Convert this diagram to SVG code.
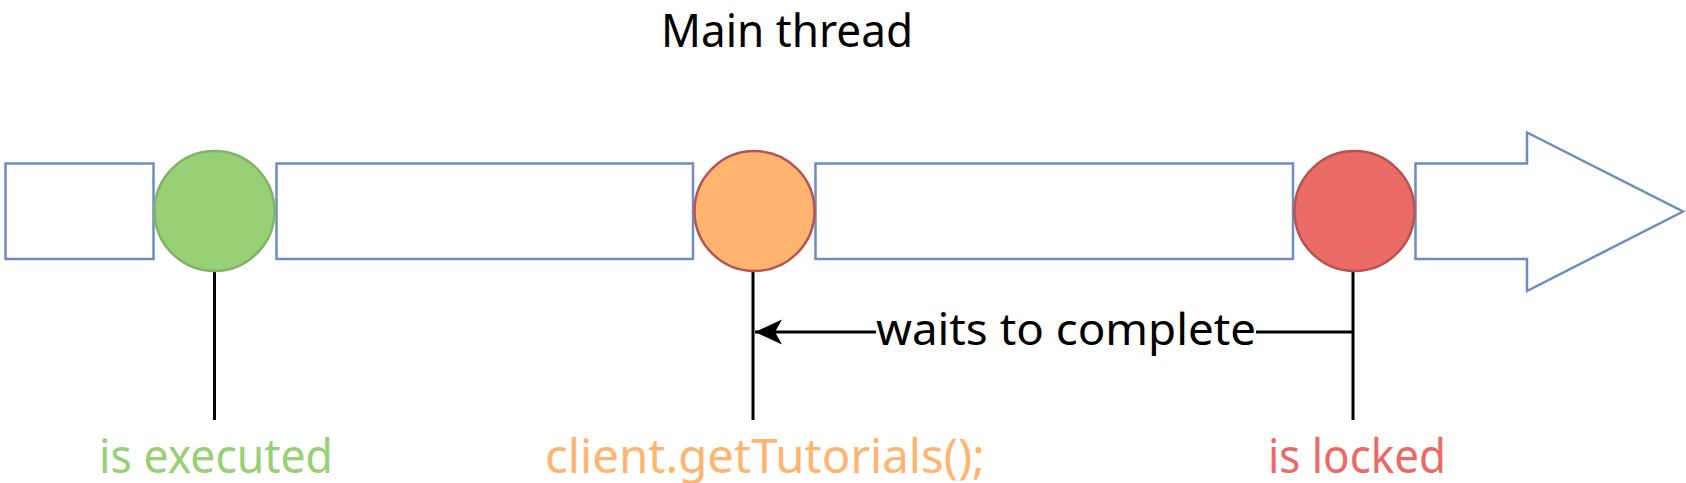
<svg xmlns="http://www.w3.org/2000/svg" width="1686" height="483" viewBox="0 0 1686 483">
<style>
.blk{fill:#fff;stroke:#6C8EBF;stroke-width:2.5}
.ln{stroke:#000;stroke-width:3;fill:none}
.t{font-family:"Noto Sans","DejaVu Sans",sans-serif}
</style>
<defs>
<marker id="ah" markerUnits="userSpaceOnUse" markerWidth="30" markerHeight="30" viewBox="0 0 30 30" refX="29" refY="15" orient="auto">
<path d="M29,15 L2,2.5 L9,15 L2,27.5 Z" fill="#000"/>
</marker>
</defs>
<rect width="1686" height="483" fill="#fff"/>
<g id="title"><text class="t" x="661" y="47" font-size="46" textLength="252" lengthAdjust="spacingAndGlyphs" fill="#000">Main thread</text></g>
<g id="block1"><rect class="blk" x="5.5" y="163.5" width="148" height="95.5"/></g>
<g id="block2"><rect class="blk" x="276.5" y="163.5" width="416.5" height="95.5"/></g>
<g id="block3"><rect class="blk" x="815.5" y="163.5" width="477.5" height="95.5"/></g>
<g id="arrow"><path class="blk" d="M1415.5,163.5 H1527 V132.5 L1683,211.5 L1527,291 V259 H1415.5 Z"/></g>
<g id="connectors">
<line class="ln" x1="214.5" y1="271" x2="214.5" y2="420"/>
<line class="ln" x1="753" y1="271" x2="753" y2="420"/>
<line class="ln" x1="1353" y1="271" x2="1353" y2="420"/>
<line class="ln" x1="1353" y1="332" x2="755" y2="332" marker-end="url(#ah)"/>
<rect x="876" y="305" width="380" height="50" fill="#fff"/>
<text class="t" x="876" y="345" font-size="44" textLength="380" lengthAdjust="spacingAndGlyphs" fill="#000">waits to complete</text>
</g>
<g id="node-executed">
<circle cx="214.5" cy="211" r="60" fill="#97D077" stroke="#82B366" stroke-width="2.5"/>
<text class="t" x="99" y="473" font-size="48" textLength="234" lengthAdjust="spacingAndGlyphs" fill="#97D077">is executed</text>
</g>
<g id="node-call">
<circle cx="754.5" cy="211" r="60" fill="#FFB570" stroke="#B85450" stroke-width="2.5"/>
<text class="t" x="545" y="473" font-size="48" textLength="440" lengthAdjust="spacingAndGlyphs" fill="#FFB570">client.getTutorials();</text>
</g>
<g id="node-locked">
<circle cx="1354.5" cy="211" r="60" fill="#EA6B66" stroke="#B85450" stroke-width="2.5"/>
<text class="t" x="1268" y="473" font-size="48" textLength="178" lengthAdjust="spacingAndGlyphs" fill="#EA6B66">is locked</text>
</g>
</svg>
